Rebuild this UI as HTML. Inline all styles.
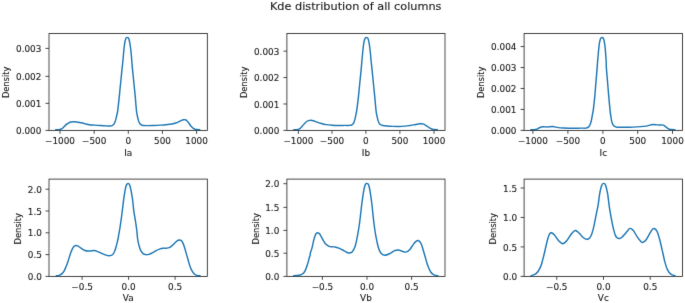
<!DOCTYPE html>
<html lang="en"><head><meta charset="utf-8"><title>Kde distribution of all columns</title>
<style>html,body{margin:0;padding:0;background:#fff}svg{display:block}text{stroke:#1c1c1c;stroke-width:.12px}</style></head>
<body>
<svg width="685" height="303" viewBox="0 0 685 303" font-family="DejaVu Sans, Liberation Sans, sans-serif" font-size="8.3" fill="#1c1c1c" stroke="none">
<rect width="685" height="303" fill="#fff"/>
<defs><filter id="soft" x="0" y="0" width="685" height="303" filterUnits="userSpaceOnUse"><feConvolveMatrix order="3" kernelMatrix="0.00717 0.08466 0.00717 0.08466 1.00000 0.08466 0.00717 0.08466 0.00717" preserveAlpha="false" edgeMode="none"/></filter></defs>
<g filter="url(#soft)">
<text transform="translate(355.70 9.60) scale(1.076 1)" text-anchor="middle" font-size="10.5">Kde distribution of all columns</text>
<g>
<path d="M55.13 129.75C55.76 129.74 57.82 129.79 58.89 129.65C59.96 129.52 60.71 129.42 61.56 128.95C62.42 128.47 63.20 127.55 64.02 126.79C64.83 126.03 65.66 125.05 66.46 124.38C67.27 123.71 68.06 123.18 68.86 122.79C69.66 122.40 70.46 122.21 71.26 122.05C72.06 121.89 72.76 121.83 73.66 121.81C74.56 121.79 75.66 121.83 76.66 121.93C77.66 122.03 78.35 122.14 79.66 122.42C80.98 122.70 82.93 123.24 84.56 123.62C86.20 123.99 87.83 124.43 89.47 124.68C91.10 124.93 92.53 124.98 94.37 125.13C96.21 125.28 98.46 125.43 100.50 125.56C102.55 125.69 105.00 125.82 106.64 125.89C108.27 125.96 109.39 126.03 110.31 125.99C111.23 125.94 111.58 125.89 112.15 125.62C112.73 125.35 113.28 125.01 113.75 124.39C114.22 123.78 114.61 122.86 114.97 121.94C115.34 121.02 115.65 120.00 115.95 118.88C116.26 117.75 116.53 116.53 116.81 115.20C117.10 113.87 117.28 113.84 117.67 110.91C118.06 107.97 118.76 101.47 119.17 97.60C119.59 93.74 119.83 91.00 120.16 87.70C120.49 84.40 120.82 81.10 121.15 77.80C121.48 74.50 121.85 70.74 122.14 67.90C122.44 65.06 122.69 63.02 122.91 60.75C123.13 58.48 123.27 56.44 123.47 54.28C123.67 52.12 123.88 49.81 124.11 47.80C124.35 45.80 124.58 43.76 124.85 42.25C125.13 40.74 125.49 39.51 125.78 38.74C126.07 37.96 126.35 37.86 126.61 37.63C126.87 37.39 127.11 37.35 127.35 37.35C127.60 37.35 127.83 37.35 128.09 37.63C128.35 37.90 128.63 38.09 128.93 39.01C129.22 39.94 129.57 41.63 129.85 43.18C130.13 44.72 130.36 46.41 130.59 48.26C130.82 50.11 131.04 52.20 131.24 54.28C131.44 56.36 131.60 58.48 131.79 60.75C131.98 63.02 132.11 65.06 132.37 67.90C132.63 70.74 133.03 74.50 133.36 77.80C133.69 81.10 134.02 84.40 134.35 87.70C134.68 91.00 134.99 93.74 135.34 97.60C135.70 101.47 136.16 107.87 136.49 110.91C136.82 113.94 137.04 114.28 137.35 115.81C137.65 117.34 137.96 118.88 138.33 120.10C138.70 121.33 139.08 122.37 139.55 123.17C140.02 123.96 140.54 124.50 141.15 124.88C141.76 125.27 142.17 125.38 143.23 125.50C144.30 125.62 145.79 125.63 147.53 125.62C149.26 125.61 151.61 125.51 153.66 125.43C155.70 125.35 157.74 125.27 159.79 125.15C161.83 125.04 163.87 124.94 165.92 124.76C167.97 124.57 170.45 124.31 172.11 124.02C173.78 123.73 174.74 123.42 175.90 123.03C177.06 122.63 178.11 122.10 179.06 121.65C180.00 121.20 180.84 120.66 181.57 120.33C182.30 120.01 182.86 119.82 183.44 119.72C184.02 119.62 184.54 119.60 185.06 119.72C185.58 119.84 186.00 120.00 186.55 120.45C187.09 120.89 187.73 121.65 188.33 122.41C188.92 123.16 189.51 124.21 190.10 124.98C190.70 125.76 191.29 126.47 191.88 127.07C192.48 127.67 192.97 128.19 193.66 128.59C194.35 128.99 194.93 129.31 196.03 129.49C197.13 129.67 199.55 129.64 200.26 129.67" fill="none" stroke="#1f77b4" stroke-width="1.45" stroke-linejoin="round" stroke-linecap="butt"/>
<path d="M60.00 130.40v3.4M94.15 130.40v3.4M128.30 130.40v3.4M162.45 130.40v3.4M196.60 130.40v3.4M49.00 130.40h-3.5M49.00 103.35h-3.5M49.00 76.35h-3.5M49.00 48.40h-3.5" stroke="#2b2b2b" stroke-width="0.85" fill="none"/>
<rect x="49" y="33.5" width="158.35" height="96.9" fill="none" stroke="#2b2b2b" stroke-width="0.85"/>
<text transform="translate(60.00 143.70) scale(1.07 1)" text-anchor="middle">−1000</text>
<text transform="translate(94.15 143.70) scale(1.07 1)" text-anchor="middle">−500</text>
<text transform="translate(128.30 143.70) scale(1.07 1)" text-anchor="middle">0</text>
<text transform="translate(162.45 143.70) scale(1.07 1)" text-anchor="middle">500</text>
<text transform="translate(196.60 143.70) scale(1.07 1)" text-anchor="middle">1000</text>
<text transform="translate(41.40 133.60) scale(1.07 1)" text-anchor="end">0.000</text>
<text transform="translate(41.40 106.55) scale(1.07 1)" text-anchor="end">0.001</text>
<text transform="translate(41.40 79.55) scale(1.07 1)" text-anchor="end">0.002</text>
<text transform="translate(41.40 51.60) scale(1.07 1)" text-anchor="end">0.003</text>
<text transform="translate(128.18 155.70) scale(1.07 1)" text-anchor="middle">Ia</text>
<text transform="translate(8.90 82.35) scale(1.07 1) rotate(-90)" text-anchor="middle">Density</text>
</g>
<g>
<path d="M293.18 129.74C293.81 129.73 295.95 129.86 297.00 129.71C298.06 129.56 298.66 129.37 299.49 128.84C300.32 128.30 301.15 127.34 301.97 126.47C302.80 125.61 303.69 124.45 304.46 123.62C305.23 122.80 305.92 122.01 306.61 121.51C307.29 121.00 307.87 120.81 308.59 120.61C309.31 120.42 310.12 120.30 310.92 120.33C311.71 120.35 312.45 120.52 313.36 120.78C314.28 121.03 315.10 121.41 316.43 121.87C317.76 122.32 319.70 123.06 321.34 123.52C322.97 123.98 324.40 124.34 326.24 124.62C328.08 124.91 330.33 125.09 332.37 125.23C334.42 125.38 336.46 125.45 338.50 125.48C340.55 125.51 342.80 125.41 344.64 125.39C346.47 125.37 348.31 125.48 349.54 125.38C350.77 125.27 351.32 125.13 351.99 124.76C352.67 124.39 353.14 123.94 353.59 123.17C354.04 122.39 354.34 121.33 354.69 120.10C355.04 118.88 355.34 117.34 355.67 115.81C356.00 114.28 356.21 113.94 356.65 110.91C357.10 107.87 357.89 101.47 358.34 97.60C358.78 93.74 359.00 91.00 359.33 87.70C359.66 84.40 359.99 81.10 360.32 77.80C360.65 74.50 361.04 70.74 361.31 67.90C361.57 65.06 361.72 62.95 361.91 60.75C362.11 58.56 362.27 56.82 362.47 54.74C362.67 52.66 362.88 50.27 363.11 48.26C363.35 46.26 363.58 44.26 363.85 42.71C364.13 41.17 364.47 39.85 364.78 39.01C365.09 38.18 365.41 38.00 365.70 37.72C366.00 37.44 366.26 37.35 366.54 37.35C366.81 37.35 367.09 37.43 367.37 37.72C367.65 38.01 367.91 38.20 368.20 39.11C368.50 40.02 368.85 41.65 369.13 43.18C369.41 44.70 369.64 46.41 369.87 48.26C370.10 50.11 370.31 52.20 370.52 54.28C370.72 56.36 370.85 58.48 371.07 60.75C371.30 63.02 371.57 65.06 371.87 67.90C372.17 70.74 372.53 74.50 372.86 77.80C373.19 81.10 373.52 84.40 373.85 87.70C374.18 91.00 374.47 93.74 374.84 97.60C375.21 101.47 375.73 107.87 376.08 110.91C376.43 113.94 376.64 114.28 376.94 115.81C377.25 117.34 377.55 118.88 377.92 120.10C378.29 121.33 378.70 122.39 379.15 123.17C379.60 123.94 380.01 124.37 380.62 124.76C381.23 125.15 381.81 125.29 382.83 125.50C383.85 125.70 385.08 125.85 386.75 125.99C388.43 126.13 390.84 126.27 392.88 126.36C394.93 126.44 396.97 126.52 399.01 126.48C401.06 126.44 403.31 126.27 405.15 126.11C406.99 125.95 408.61 125.70 410.05 125.50C411.50 125.30 412.67 125.11 413.82 124.90C414.98 124.70 416.03 124.46 416.97 124.28C417.90 124.10 418.69 123.93 419.45 123.84C420.21 123.74 420.82 123.65 421.53 123.71C422.25 123.77 422.97 123.89 423.74 124.20C424.51 124.52 425.34 125.10 426.14 125.60C426.94 126.10 427.74 126.72 428.53 127.23C429.33 127.73 430.12 128.24 430.93 128.60C431.73 128.97 432.17 129.24 433.35 129.42C434.53 129.60 437.23 129.63 438.01 129.67" fill="none" stroke="#1f77b4" stroke-width="1.45" stroke-linejoin="round" stroke-linecap="butt"/>
<path d="M298.40 130.40v3.4M332.00 130.40v3.4M365.90 130.40v3.4M399.90 130.40v3.4M434.00 130.40v3.4M286.90 130.40h-3.5M286.90 103.97h-3.5M286.90 77.54h-3.5M286.90 51.11h-3.5" stroke="#2b2b2b" stroke-width="0.85" fill="none"/>
<rect x="286.9" y="33.5" width="158.1" height="96.9" fill="none" stroke="#2b2b2b" stroke-width="0.85"/>
<text transform="translate(298.40 143.70) scale(1.07 1)" text-anchor="middle">−1000</text>
<text transform="translate(332.00 143.70) scale(1.07 1)" text-anchor="middle">−500</text>
<text transform="translate(365.90 143.70) scale(1.07 1)" text-anchor="middle">0</text>
<text transform="translate(399.90 143.70) scale(1.07 1)" text-anchor="middle">500</text>
<text transform="translate(434.00 143.70) scale(1.07 1)" text-anchor="middle">1000</text>
<text transform="translate(279.30 134.10) scale(1.07 1)" text-anchor="end">0.000</text>
<text transform="translate(279.30 107.67) scale(1.07 1)" text-anchor="end">0.001</text>
<text transform="translate(279.30 81.24) scale(1.07 1)" text-anchor="end">0.002</text>
<text transform="translate(279.30 54.81) scale(1.07 1)" text-anchor="end">0.003</text>
<text transform="translate(365.95 155.70) scale(1.07 1)" text-anchor="middle">Ib</text>
<text transform="translate(246.80 82.35) scale(1.07 1) rotate(-90)" text-anchor="middle">Density</text>
</g>
<g>
<path d="M530.21 129.78C530.86 129.79 533.03 129.89 534.10 129.81C535.17 129.73 535.84 129.60 536.65 129.30C537.46 129.00 538.20 128.40 538.98 128.01C539.76 127.63 540.56 127.21 541.36 127.00C542.16 126.79 542.87 126.76 543.78 126.76C544.69 126.76 545.91 127.00 546.82 127.00C547.73 127.00 548.34 126.84 549.25 126.76C550.16 126.67 551.37 126.49 552.28 126.51C553.19 126.53 553.70 126.69 554.71 126.88C555.72 127.06 556.93 127.42 558.35 127.61C559.77 127.81 561.40 127.95 563.24 128.04C565.08 128.13 567.33 128.14 569.37 128.16C571.42 128.18 573.46 128.18 575.50 128.17C577.55 128.16 579.90 128.14 581.64 128.13C583.37 128.12 584.86 128.21 585.93 128.10C586.99 127.99 587.40 127.89 588.01 127.47C588.62 127.06 589.14 126.44 589.61 125.62C590.08 124.80 590.46 123.78 590.83 122.55C591.20 121.33 591.51 119.80 591.81 118.26C592.12 116.73 592.41 114.89 592.67 113.36C592.94 111.82 593.07 111.69 593.41 109.07C593.74 106.44 594.32 101.16 594.67 97.60C595.01 94.04 595.22 91.00 595.49 87.70C595.77 84.40 596.04 81.10 596.32 77.80C596.59 74.50 596.92 70.74 597.14 67.90C597.36 65.06 597.47 62.95 597.65 60.75C597.83 58.56 598.02 56.74 598.21 54.74C598.39 52.74 598.55 50.73 598.76 48.73C598.98 46.72 599.22 44.33 599.50 42.71C599.78 41.09 600.13 39.85 600.43 39.01C600.72 38.18 600.98 37.98 601.26 37.72C601.54 37.46 601.81 37.43 602.09 37.44C602.37 37.46 602.65 37.50 602.93 37.81C603.20 38.12 603.48 38.32 603.76 39.29C604.04 40.26 604.34 42.07 604.59 43.64C604.84 45.21 605.05 46.88 605.24 48.73C605.42 50.58 605.55 52.74 605.70 54.74C605.85 56.74 606.05 58.56 606.16 60.75C606.28 62.95 606.21 65.06 606.38 67.90C606.56 70.74 606.93 74.50 607.21 77.80C607.48 81.10 607.76 84.40 608.03 87.70C608.31 91.00 608.51 93.74 608.86 97.60C609.21 101.47 609.80 107.77 610.14 110.91C610.48 114.04 610.61 114.69 610.88 116.42C611.14 118.16 611.39 119.96 611.73 121.33C612.08 122.70 612.49 123.78 612.96 124.64C613.43 125.50 613.88 126.05 614.55 126.48C615.23 126.91 615.68 127.07 617.01 127.21C618.34 127.36 620.38 127.34 622.53 127.34C624.67 127.34 627.43 127.30 629.88 127.21C632.34 127.13 634.99 126.99 637.24 126.85C639.49 126.70 641.53 126.56 643.37 126.36C645.21 126.15 646.95 125.89 648.28 125.62C649.61 125.35 650.42 124.95 651.34 124.76C652.26 124.58 652.88 124.50 653.80 124.52C654.72 124.54 655.84 124.80 656.86 124.88C657.88 124.97 659.01 125.01 659.93 125.01C660.85 125.01 661.66 124.78 662.38 124.88C663.09 124.99 663.61 125.25 664.22 125.62C664.83 125.99 665.40 126.60 666.06 127.09C666.71 127.58 667.43 128.18 668.14 128.56C668.86 128.95 669.12 129.24 670.35 129.42C671.58 129.61 674.64 129.63 675.50 129.67" fill="none" stroke="#1f77b4" stroke-width="1.45" stroke-linejoin="round" stroke-linecap="butt"/>
<path d="M532.90 130.40v3.4M567.90 130.40v3.4M602.90 130.40v3.4M637.70 130.40v3.4M672.50 130.40v3.4M524.10 130.40h-3.5M524.10 109.44h-3.5M524.10 88.48h-3.5M524.10 67.52h-3.5M524.10 46.56h-3.5" stroke="#2b2b2b" stroke-width="0.85" fill="none"/>
<rect x="524.1" y="33.5" width="158.4" height="96.9" fill="none" stroke="#2b2b2b" stroke-width="0.85"/>
<text transform="translate(532.90 143.70) scale(1.07 1)" text-anchor="middle">−1000</text>
<text transform="translate(567.90 143.70) scale(1.07 1)" text-anchor="middle">−500</text>
<text transform="translate(602.90 143.70) scale(1.07 1)" text-anchor="middle">0</text>
<text transform="translate(637.70 143.70) scale(1.07 1)" text-anchor="middle">500</text>
<text transform="translate(672.50 143.70) scale(1.07 1)" text-anchor="middle">1000</text>
<text transform="translate(516.50 133.60) scale(1.07 1)" text-anchor="end">0.000</text>
<text transform="translate(516.50 112.64) scale(1.07 1)" text-anchor="end">0.001</text>
<text transform="translate(516.50 91.68) scale(1.07 1)" text-anchor="end">0.002</text>
<text transform="translate(516.50 70.72) scale(1.07 1)" text-anchor="end">0.003</text>
<text transform="translate(516.50 49.76) scale(1.07 1)" text-anchor="end">0.004</text>
<text transform="translate(603.30 155.70) scale(1.07 1)" text-anchor="middle">Ic</text>
<text transform="translate(484.00 82.35) scale(1.07 1) rotate(-90)" text-anchor="middle">Density</text>
</g>
<g>
<path d="M55.74 275.91C56.29 275.82 58.05 275.71 59.05 275.38C60.04 275.05 60.85 274.65 61.69 273.92C62.52 273.20 63.36 272.16 64.06 271.02C64.77 269.87 65.32 268.49 65.91 267.06C66.51 265.63 67.06 264.08 67.63 262.43C68.20 260.78 68.80 258.85 69.35 257.15C69.90 255.46 70.40 253.69 70.93 252.26C71.46 250.83 71.97 249.56 72.52 248.57C73.07 247.58 73.66 246.83 74.23 246.32C74.81 245.81 75.41 245.62 75.95 245.53C76.49 245.44 76.86 245.51 77.49 245.79C78.11 246.08 78.88 246.69 79.71 247.25C80.53 247.80 81.51 248.54 82.42 249.09C83.32 249.64 84.21 250.22 85.13 250.55C86.05 250.88 86.94 251.03 87.96 251.08C88.99 251.12 90.23 250.90 91.26 250.81C92.30 250.72 93.18 250.46 94.17 250.55C95.16 250.64 96.04 250.90 97.21 251.34C98.37 251.78 99.85 252.59 101.17 253.19C102.49 253.78 103.92 254.49 105.13 254.91C106.34 255.32 107.44 255.61 108.43 255.70C109.42 255.79 110.31 255.70 111.08 255.43C111.85 255.17 112.46 254.82 113.06 254.11C113.65 253.41 114.16 252.35 114.64 251.21C115.13 250.06 115.54 248.68 115.96 247.25C116.38 245.81 116.78 244.16 117.15 242.62C117.53 241.08 117.95 239.27 118.21 238.00C118.47 236.73 118.47 236.33 118.70 235.00C118.93 233.67 119.28 231.92 119.60 230.00C119.92 228.08 120.30 225.53 120.60 223.50C120.90 221.47 121.12 219.85 121.40 217.80C121.68 215.75 121.91 213.97 122.25 211.20C122.59 208.43 123.13 203.87 123.47 201.20C123.81 198.53 124.01 197.12 124.30 195.19C124.59 193.26 124.90 191.26 125.22 189.64C125.55 188.02 125.92 186.43 126.24 185.48C126.57 184.52 126.86 184.24 127.17 183.90C127.48 183.56 127.78 183.44 128.09 183.44C128.40 183.44 128.71 183.53 129.02 183.90C129.33 184.27 129.63 184.70 129.94 185.66C130.25 186.62 130.56 188.13 130.87 189.64C131.18 191.15 131.48 192.88 131.79 194.73C132.10 196.58 132.38 197.99 132.72 200.74C133.06 203.49 133.45 208.36 133.82 211.20C134.19 214.04 134.59 215.67 134.94 217.80C135.29 219.93 135.59 221.88 135.90 224.00C136.21 226.12 136.53 228.17 136.80 230.50C137.07 232.83 137.27 235.98 137.53 238.00C137.78 240.02 137.99 241.08 138.32 242.62C138.65 244.16 139.05 245.81 139.51 247.25C139.97 248.68 140.50 250.15 141.09 251.21C141.69 252.26 142.31 253.01 143.08 253.58C143.85 254.16 144.77 254.51 145.72 254.64C146.66 254.77 147.70 254.66 148.75 254.38C149.81 254.09 150.85 253.54 152.06 252.92C153.27 252.31 154.70 251.36 156.02 250.68C157.34 250.00 158.77 249.25 159.98 248.83C161.19 248.41 162.18 248.28 163.28 248.17C164.38 248.06 165.59 248.26 166.58 248.17C167.58 248.08 168.30 248.06 169.23 247.64C170.15 247.22 171.21 246.43 172.13 245.66C173.06 244.89 173.94 243.81 174.77 243.02C175.61 242.23 176.42 241.41 177.15 240.91C177.88 240.40 178.50 240.07 179.13 239.98C179.76 239.89 180.35 239.94 180.95 240.38C181.54 240.82 182.12 241.48 182.71 242.62C183.30 243.77 183.86 245.37 184.48 247.25C185.09 249.12 185.76 251.65 186.39 253.85C187.02 256.05 187.63 258.36 188.25 260.45C188.86 262.54 189.42 264.64 190.07 266.40C190.73 268.16 191.44 269.76 192.16 271.02C192.88 272.27 193.58 273.20 194.38 273.92C195.17 274.65 195.88 275.05 196.94 275.38C197.99 275.71 200.07 275.82 200.70 275.91" fill="none" stroke="#1f77b4" stroke-width="1.45" stroke-linejoin="round" stroke-linecap="butt"/>
<path d="M82.10 276.40v3.4M128.60 276.40v3.4M175.10 276.40v3.4M49.00 276.40h-3.5M49.00 254.60h-3.5M49.00 232.80h-3.5M49.00 211.00h-3.5M49.00 189.20h-3.5" stroke="#2b2b2b" stroke-width="0.85" fill="none"/>
<rect x="49" y="179.1" width="158.35" height="97.3" fill="none" stroke="#2b2b2b" stroke-width="0.85"/>
<text transform="translate(82.10 289.70) scale(1.07 1)" text-anchor="middle">−0.5</text>
<text transform="translate(128.60 289.70) scale(1.07 1)" text-anchor="middle">0.0</text>
<text transform="translate(175.10 289.70) scale(1.07 1)" text-anchor="middle">0.5</text>
<text transform="translate(41.90 280.05) scale(1.07 1)" text-anchor="end">0.0</text>
<text transform="translate(41.90 258.25) scale(1.07 1)" text-anchor="end">0.5</text>
<text transform="translate(41.90 236.45) scale(1.07 1)" text-anchor="end">1.0</text>
<text transform="translate(41.90 214.65) scale(1.07 1)" text-anchor="end">1.5</text>
<text transform="translate(41.90 192.85) scale(1.07 1)" text-anchor="end">2.0</text>
<text transform="translate(128.18 301.40) scale(1.07 1)" text-anchor="middle">Va</text>
<text transform="translate(21.20 228.75) scale(1.07 1) rotate(-90)" text-anchor="middle">Density</text>
</g>
<g>
<path d="M293.01 275.63C293.71 275.61 295.94 275.64 297.18 275.53C298.41 275.43 299.57 275.22 300.41 274.98C301.26 274.73 301.72 274.39 302.26 274.05C302.80 273.71 303.19 273.48 303.65 272.94C304.11 272.40 304.61 271.63 305.04 270.81C305.47 270.00 305.86 269.04 306.24 268.04C306.63 267.04 306.98 265.96 307.35 264.80C307.72 263.65 308.11 262.41 308.46 261.10C308.82 259.79 309.20 257.87 309.48 256.94C309.76 256.00 309.98 256.19 310.13 255.50C310.28 254.81 310.10 254.00 310.41 252.78C310.71 251.56 311.44 250.17 311.96 248.18C312.48 246.20 313.04 242.89 313.55 240.86C314.06 238.83 314.56 237.20 315.01 235.98C315.46 234.76 315.76 234.09 316.23 233.54C316.70 232.99 317.27 232.65 317.82 232.69C318.37 232.73 318.92 233.03 319.53 233.78C320.14 234.54 320.81 236.02 321.48 237.20C322.15 238.38 322.80 239.68 323.55 240.86C324.30 242.04 325.08 243.36 325.99 244.28C326.91 245.19 328.02 245.92 329.04 246.35C330.06 246.78 331.07 246.74 332.09 246.84C333.11 246.94 334.02 246.74 335.14 246.96C336.26 247.18 337.58 247.67 338.80 248.18C340.02 248.69 341.26 249.40 342.46 250.01C343.66 250.62 345.01 251.35 346.00 251.84C346.99 252.33 347.38 252.92 348.40 252.94C349.43 252.95 351.02 253.06 352.15 251.94C353.27 250.82 354.23 249.03 355.14 246.20C356.06 243.37 356.89 238.92 357.64 234.96C358.39 231.01 359.00 227.18 359.64 222.48C360.27 217.78 361.02 210.30 361.45 206.75C361.88 203.21 361.93 203.13 362.19 201.20C362.45 199.28 362.73 197.12 363.02 195.19C363.31 193.26 363.61 191.29 363.95 189.64C364.29 187.99 364.70 186.28 365.06 185.29C365.41 184.30 365.75 184.04 366.07 183.72C366.40 183.39 366.69 183.33 367.00 183.35C367.31 183.36 367.62 183.46 367.93 183.81C368.23 184.17 368.54 184.50 368.85 185.48C369.16 186.45 369.48 188.10 369.78 189.64C370.07 191.18 370.33 192.88 370.61 194.73C370.89 196.58 371.18 198.74 371.44 200.74C371.70 202.74 371.78 203.13 372.18 206.75C372.58 210.38 373.25 217.57 373.86 222.48C374.48 227.39 375.11 232.05 375.86 236.21C376.61 240.37 377.53 244.66 378.36 247.45C379.19 250.23 379.81 251.65 380.85 252.94C381.89 254.23 383.14 255.06 384.60 255.18C386.05 255.31 387.93 254.44 389.59 253.69C391.26 252.94 393.13 251.31 394.58 250.69C396.04 250.07 397.08 249.85 398.33 249.94C399.58 250.04 400.84 250.89 402.09 251.25C403.35 251.61 404.62 252.37 405.88 252.11C407.14 251.86 408.39 251.07 409.66 249.73C410.93 248.39 412.35 245.56 413.50 244.10C414.66 242.63 415.72 241.51 416.58 240.94C417.44 240.36 417.87 240.14 418.65 240.66C419.42 241.18 420.29 241.85 421.24 244.06C422.19 246.27 423.29 250.43 424.35 253.93C425.40 257.43 426.50 262.06 427.56 265.07C428.62 268.08 429.61 270.34 430.68 271.98C431.75 273.62 432.69 274.25 433.98 274.91C435.28 275.56 437.70 275.74 438.45 275.90" fill="none" stroke="#1f77b4" stroke-width="1.45" stroke-linejoin="round" stroke-linecap="butt"/>
<path d="M322.40 276.40v3.4M367.00 276.40v3.4M411.60 276.40v3.4M286.90 276.40h-3.5M286.90 253.20h-3.5M286.90 230.40h-3.5M286.90 207.35h-3.5M286.90 183.70h-3.5" stroke="#2b2b2b" stroke-width="0.85" fill="none"/>
<rect x="286.9" y="179.1" width="158.1" height="97.3" fill="none" stroke="#2b2b2b" stroke-width="0.85"/>
<text transform="translate(322.40 289.70) scale(1.07 1)" text-anchor="middle">−0.5</text>
<text transform="translate(367.00 289.70) scale(1.07 1)" text-anchor="middle">0.0</text>
<text transform="translate(411.60 289.70) scale(1.07 1)" text-anchor="middle">0.5</text>
<text transform="translate(279.30 280.10) scale(1.07 1)" text-anchor="end">0.0</text>
<text transform="translate(279.30 256.90) scale(1.07 1)" text-anchor="end">0.5</text>
<text transform="translate(279.30 234.10) scale(1.07 1)" text-anchor="end">1.0</text>
<text transform="translate(279.30 211.05) scale(1.07 1)" text-anchor="end">1.5</text>
<text transform="translate(279.30 187.40) scale(1.07 1)" text-anchor="end">2.0</text>
<text transform="translate(365.95 301.40) scale(1.07 1)" text-anchor="middle">Vb</text>
<text transform="translate(259.00 228.75) scale(1.07 1) rotate(-90)" text-anchor="middle">Density</text>
</g>
<g>
<path d="M530.45 275.90C531.39 275.53 534.41 275.07 536.05 273.66C537.69 272.24 539.10 270.12 540.32 267.42C541.53 264.71 542.45 260.76 543.34 257.43C544.24 254.10 544.95 250.57 545.69 247.45C546.42 244.32 547.08 241.00 547.76 238.71C548.44 236.42 549.16 234.71 549.79 233.72C550.41 232.72 550.74 232.51 551.52 232.72C552.29 232.92 553.29 233.67 554.44 234.96C555.59 236.25 557.06 239.00 558.44 240.46C559.81 241.91 561.26 243.70 562.68 243.70C564.09 243.70 565.55 241.99 566.92 240.46C568.30 238.92 569.75 236.00 570.92 234.46C572.08 232.92 573.12 231.88 573.91 231.22C574.70 230.55 574.91 230.26 575.66 230.47C576.41 230.68 577.68 231.87 578.41 232.47C579.13 233.06 579.29 233.29 580.00 234.04C580.71 234.78 581.76 236.13 582.64 236.94C583.52 237.75 584.44 238.54 585.28 238.92C586.11 239.29 586.88 239.40 587.65 239.18C588.42 238.96 589.19 238.52 589.89 237.60C590.60 236.68 591.26 235.29 591.87 233.64C592.49 231.99 593.04 230.01 593.59 227.70C594.14 225.40 594.64 222.43 595.17 219.79C595.70 217.15 596.25 214.40 596.75 211.87C597.26 209.34 597.77 207.32 598.21 204.62C598.64 201.91 599.01 198.07 599.37 195.65C599.74 193.23 600.04 191.72 600.39 190.10C600.75 188.48 601.13 186.97 601.50 185.94C601.87 184.91 602.24 184.33 602.61 183.90C602.98 183.47 603.35 183.35 603.72 183.35C604.09 183.35 604.48 183.47 604.83 183.90C605.19 184.33 605.53 184.98 605.85 185.94C606.17 186.89 606.45 188.17 606.78 189.64C607.10 191.10 607.37 191.90 607.79 194.73C608.21 197.55 608.82 203.30 609.29 206.60C609.76 209.89 610.15 211.87 610.61 214.51C611.07 217.15 611.55 219.90 612.06 222.43C612.56 224.96 613.09 227.53 613.64 229.68C614.19 231.84 614.74 233.97 615.36 235.36C615.97 236.74 616.68 237.47 617.34 237.99C617.99 238.52 618.54 238.65 619.31 238.52C620.08 238.39 621.03 237.95 621.95 237.20C622.88 236.46 623.93 235.07 624.85 234.04C625.78 233.00 626.64 231.95 627.49 231.00C628.35 230.06 629.03 228.45 630.00 228.36C630.97 228.28 632.06 228.95 633.33 230.47C634.59 231.99 636.24 235.55 637.57 237.46C638.90 239.37 640.44 241.12 641.31 241.95C642.19 242.79 641.98 242.87 642.81 242.45C643.64 242.04 645.10 241.04 646.31 239.46C647.51 237.88 649.01 234.67 650.05 232.97C651.09 231.26 651.84 229.97 652.55 229.22C653.25 228.47 653.55 228.14 654.29 228.47C655.04 228.81 656.09 229.31 657.01 231.22C657.92 233.13 658.90 236.63 659.80 239.96C660.71 243.28 661.56 247.45 662.43 251.19C663.29 254.93 664.13 259.30 664.99 262.42C665.84 265.54 666.58 267.96 667.55 269.91C668.51 271.87 669.42 273.16 670.77 274.16C672.12 275.15 674.83 275.61 675.64 275.90" fill="none" stroke="#1f77b4" stroke-width="1.45" stroke-linejoin="round" stroke-linecap="butt"/>
<path d="M556.75 276.40v3.4M603.50 276.40v3.4M650.25 276.40v3.4M524.10 276.40h-3.5M524.10 246.93h-3.5M524.10 217.46h-3.5M524.10 187.99h-3.5" stroke="#2b2b2b" stroke-width="0.85" fill="none"/>
<rect x="524.1" y="179.1" width="158.4" height="97.3" fill="none" stroke="#2b2b2b" stroke-width="0.85"/>
<text transform="translate(556.75 289.70) scale(1.07 1)" text-anchor="middle">−0.5</text>
<text transform="translate(603.50 289.70) scale(1.07 1)" text-anchor="middle">0.0</text>
<text transform="translate(650.25 289.70) scale(1.07 1)" text-anchor="middle">0.5</text>
<text transform="translate(517.10 280.10) scale(1.07 1)" text-anchor="end">0.0</text>
<text transform="translate(517.10 250.63) scale(1.07 1)" text-anchor="end">0.5</text>
<text transform="translate(517.10 221.16) scale(1.07 1)" text-anchor="end">1.0</text>
<text transform="translate(517.10 191.69) scale(1.07 1)" text-anchor="end">1.5</text>
<text transform="translate(603.30 301.40) scale(1.07 1)" text-anchor="middle">Vc</text>
<text transform="translate(496.30 228.75) scale(1.07 1) rotate(-90)" text-anchor="middle">Density</text>
</g>
</g>
</svg>
</body></html>
